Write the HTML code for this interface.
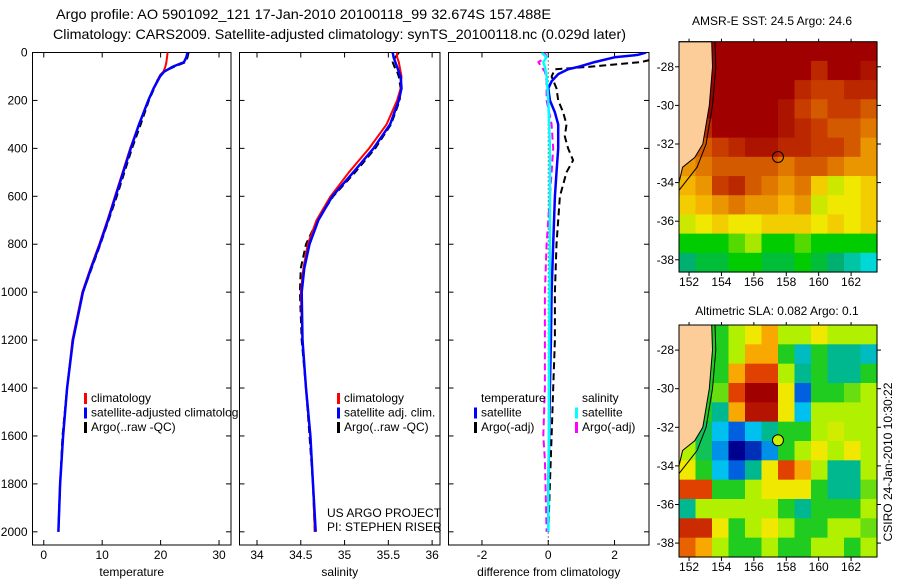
<!DOCTYPE html>
<html><head><meta charset="utf-8">
<style>
html,body{margin:0;padding:0;background:#fff;}
svg{display:block;font-family:"Liberation Sans",sans-serif;}
</style></head>
<body>
<svg id="fig" width="900" height="580" viewBox="0 0 900 580" xmlns="http://www.w3.org/2000/svg">
<rect width="900" height="580" fill="#fff"/>
<text x="56" y="19" font-size="14" textLength="495" lengthAdjust="spacingAndGlyphs">Argo profile: AO 5901092_121 17-Jan-2010 20100118_99 32.674S 157.488E</text>
<text x="53" y="39" font-size="14" textLength="573" lengthAdjust="spacingAndGlyphs">Climatology: CARS2009. Satellite-adjusted climatology: synTS_20100118.nc (0.029d later)</text>
<text x="772" y="25" font-size="12" text-anchor="middle">AMSR-E SST: 24.5 Argo: 24.6</text>
<text x="777" y="315" font-size="12" text-anchor="middle">Altimetric SLA: 0.082 Argo: 0.1</text>
<text transform="translate(892,462) rotate(-90)" font-size="12" text-anchor="middle">CSIRO 24-Jan-2010 10:30:22</text>
<text x="327" y="517" font-size="12">US ARGO PROJECT</text>
<text x="327" y="531" font-size="12">PI: STEPHEN RISER</text>
<g id="g"></g>
</svg>
<script>
// ---- profile data ----
const depths = [0,20,40,60,80,100,150,200,300,400,500,600,700,800,900,1000,1200,1400,1600,1800,2000];
const tempClim = [21.2,21.1,21.0,20.8,20.5,19.8,18.8,17.9,16.3,14.8,13.5,12.2,10.9,9.5,8.0,6.6,4.9,4.0,3.3,2.8,2.5];
const tempSat  = [24.6,24.4,24.0,22.0,20.6,19.9,18.8,17.9,16.3,14.9,13.6,12.3,11.0,9.6,8.1,6.7,5.0,4.0,3.3,2.8,2.5];
const tempArgo = [24.8,24.6,24.3,22.3,20.5,19.7,18.9,18.0,16.6,15.1,13.8,12.5,11.1,9.7,8.2,6.7,5.0,4.0,3.2,2.8,2.5];
const salClim = [35.6,35.6,35.62,35.63,35.64,35.65,35.64,35.6,35.48,35.28,35.05,34.84,34.68,34.58,34.53,34.5,34.52,34.56,34.61,34.64,34.66];
const salSat  = [35.55,35.56,35.58,35.6,35.62,35.64,35.65,35.62,35.52,35.33,35.1,34.86,34.7,34.6,34.54,34.51,34.52,34.56,34.61,34.64,34.67];
const salArgo = [35.62,35.58,35.55,35.57,35.6,35.62,35.64,35.63,35.53,35.35,35.12,34.87,34.69,34.56,34.5,34.49,34.51,34.56,34.6,34.64,34.66];
const dTSatDepth = [0,10,20,40,60,70,90,120,150,200,250,300,400,500,600,800,1000,1200,1400,1600,1800,2000];
const dTSat      = [2.95,2.7,2.0,1.4,0.9,0.6,0.3,0.1,0.0,0.05,0.2,0.3,0.3,0.25,0.2,0.15,0.1,0.08,0.05,0.03,0.0,0.0];
const dTArgoDepth = [0,30,40,50,60,70,100,150,200,250,300,350,400,450,500,550,600,700,800,1000,1200,1400,1600,1800,2000];
const dTArgo      = [3.3,3.1,2.8,2.0,1.2,0.2,0.1,0.25,0.3,0.45,0.55,0.5,0.6,0.75,0.55,0.45,0.35,0.3,0.25,0.2,0.2,0.15,0.1,0.05,0.0];
const dSSatDepth = [0,20,40,60,100,200,400,600,800,1000,1200,1400,1600,1800,2000];
const dSSat      = [-0.2,-0.05,-0.15,-0.1,-0.05,0.0,0.05,0.05,0.05,0.04,0.03,0.02,0.02,0.0,0.0];
const dSArgoDepth = [0,20,40,60,80,120,200,300,400,500,600,800,1000,1200,1400,1600,1700,2000];
const dSArgo      = [-0.1,-0.05,-0.3,-0.2,-0.1,-0.05,-0.05,0.1,0.15,0.1,0.05,-0.05,-0.1,-0.1,-0.1,-0.15,-0.1,-0.05];
const depthTicks = [0,200,400,600,800,1000,1200,1400,1600,1800,2000];
const tempTicks = [0,10,20,30];
const salTicks = [34,34.5,35,35.5,36];
const diffTicks = [-2,0,2];
// ---- map data (rows lat -27.2 .. -38.2, cols lon 151.9 .. 162.9) ----
const sstGrid = [
[10,10,10,10,10,10,10,10,10,10,10,10],
[10,10,10,10,10,10,10,10,9,10,10,9.5],
[10,10,10,10,10,10,10,9,8.5,8.5,9,9],
[10,10,10,10,10,10,9.5,8.5,8,8.5,8.5,8],
[9,9,10,10,10,10,9.5,9,8.5,8,8,7.5],
[8,8,8.5,9,9.5,9.5,9,9,8.5,8.5,8,7],
[7,7.5,8,8,8,8,7.5,8,8,7.5,7,7],
[6.5,7,8.5,9,8,7.5,7,7.5,6,5,5.5,6],
[6,6.5,7,7.5,7,7,6.5,7,5,5.5,5.5,6],
[5,5.5,6,5.5,5.5,6,6,6,5.5,6,5.5,6],
[3.5,3.5,3.5,4,4.5,3.5,3.5,4,3.5,3.5,3.5,3.5],
[2.5,3,3,3.5,3.5,3,3,3.5,3,2.5,2,1.5]];
const slaGrid = [
[4,4,4,5,6,7,5,5,6,5,5,5],
[4,4,4,5,7,7,4,2.5,4,3,3,2.5],
[4,4,4,7,8.5,8.5,5,3,4,3,3,4],
[4,4,4.5,8.5,10,10,6,1,4,4,4.5,5],
[4,4,3,7,9.5,9.5,6,2,5,5,5,5],
[4,3.5,2,1,2,3,4,4,5,5.5,5,5],
[5,3.5,1.5,0,0.5,1.5,4,5,6,5,6,5],
[6,4,2,1,3,6,8.5,7,5,3,3,5],
[8.5,8.5,4,4,5,6,6,6,4,3,3,4.5],
[3,5,5,5,5,5,4,3,4,4,4,5],
[9,9,6,4,5,6,5,4,4,5,5,4.5],
[8,7,5,4,4,5,4,4,5,5,4,5]];
const lonTicks = [152,154,156,158,160,162];
const latTicks = [-28,-30,-32,-34,-36,-38];
const argoLon = 157.488, argoLat = -32.674;

const NS="http://www.w3.org/2000/svg";
const G=document.getElementById('g');
function mk(tag,attrs,parent){const e=document.createElementNS(NS,tag);for(const k in attrs)e.setAttribute(k,attrs[k]);(parent||G).appendChild(e);return e;}
function txt(x,y,s,size,anchor,parent){const t=mk('text',{x:x,y:y,'font-size':size,'text-anchor':anchor||'start'},parent);t.textContent=s;return t;}

const yTop=52.5, yBot=545, dMax=2055;
const yD=d=>yTop+d/dMax*(yBot-yTop);

function panel(name,x0,x1,xmin,xmax,xticks,xlabel,showY){
  const sx=v=>x0+(v-xmin)/(xmax-xmin)*(x1-x0);
  const g=mk('g',{});
  
  
  const clipId=name+'-clip';
  const cp=mk('clipPath',{id:clipId},g);mk('rect',{x:x0,y:yTop,width:x1-x0,height:yBot-yTop},cp);
  const box=mk('rect',{x:x0,y:yTop,width:x1-x0,height:yBot-yTop,fill:'none',stroke:'#000','stroke-width':1},g);
  
  
  depthTicks.forEach(d=>{const y=yD(d);
    mk('line',{x1:x0,x2:x0+5,y1:y,y2:y,stroke:'#000'},g);
    mk('line',{x1:x1,x2:x1-5,y1:y,y2:y,stroke:'#000'},g);
    if(showY){const t=txt(x0-5,y+4,String(d),12,'end',g);
      
      }
  });
  xticks.forEach(v=>{const x=sx(v);
    mk('line',{x1:x,x2:x,y1:yBot,y2:yBot-5,stroke:'#000'},g);
    mk('line',{x1:x,x2:x,y1:yTop,y2:yTop+5,stroke:'#000'},g);
    const t=txt(x,559,String(v),12,'middle',g);
    
    
  });
  const xl=txt((x0+x1)/2,576,xlabel,12,'middle',g);
  
  
  const inner=mk('g',{'clip-path':'url(#'+clipId+')'},g);
  return {sx,inner,g};
}
function line(p,vals,ds,color,w,dash,nm){
  const pts=vals.map((v,i)=>p.sx(v).toFixed(1)+','+yD(ds[i]).toFixed(1)).join(' ');
  const a={points:pts,fill:'none',stroke:color,'stroke-width':w,'stroke-linejoin':'round'};
  if(dash)a['stroke-dasharray']=dash;
  const l=mk('polyline',a,p.inner);
  
  
}
function legend(p,x,y,items,parent){
  items.forEach((it,i)=>{const yy=y+i*14.5;
    if(it.c){mk('rect',{x:x-7,y:yy-9,width:3,height:11,fill:it.c},parent||p.g);}
    const t=txt(x,yy,it.t,12,'start',parent||p.g);
    
    
  });
}

const p1=panel('temperature-panel',32.5,231,-1.93,32.05,tempTicks,'temperature',true);
line(p1,tempArgo,depths,'#000',2,'7,4','temp-argo-line');
line(p1,tempClim,depths,'#f00',2,null,'temp-clim-line');
line(p1,tempSat,depths,'#00f',2.5,null,'temp-sat-line');
const lg1=mk('g',{'clip-path':'url(#leg1clip)'});
const c1=mk('clipPath',{id:'leg1clip'});mk('rect',{x:0,y:380,width:238,height:60},c1);
legend(p1,91,402,[{t:'climatology',c:'#f00'},{t:'satellite-adjusted climatology',c:'#00f'},{t:'Argo(..raw -QC)',c:'#000'}],lg1);

const p2=panel('salinity-panel',239.5,440,33.8,36.09,salTicks,'salinity',false);
line(p2,salArgo,depths,'#000',2,'7,4','sal-argo-line');
line(p2,salClim,depths,'#f00',2,null,'sal-clim-line');
line(p2,salSat,depths,'#00f',2.5,null,'sal-sat-line');
legend(p2,344,402,[{t:'climatology',c:'#f00'},{t:'satellite adj. clim.',c:'#00f'},{t:'Argo(..raw -QC)',c:'#000'}]);

const p3=panel('difference-panel',448.5,649,-3.01,3.04,diffTicks,'difference from climatology',false);
mk('line',{x1:p3.sx(0),x2:p3.sx(0),y1:yTop,y2:yBot,stroke:'#000','stroke-dasharray':'1,3'},p3.inner);
line(p3,dTArgo,dTArgoDepth,'#000',2,'7,4','dtemp-argo-line');
line(p3,dSArgo,dSArgoDepth,'#f0f',2,'7,4','dsal-argo-line');
line(p3,dTSat,dTSatDepth,'#00f',2.5,null,'dtemp-sat-line');
line(p3,dSSat,dSSatDepth,'#0ff',2.5,null,'dsal-sat-line');
legend(p3,481,402,[{t:'temperature'},{t:'satellite',c:'#00f'},{t:'Argo(-adj)',c:'#000'}]);
legend(p3,582,402,[{t:'salinity'},{t:'satellite',c:'#0ff'},{t:'Argo(-adj)',c:'#f0f'}]);

function lerpC(a,b,t){const pa=[1,3,5].map(i=>parseInt(a.substr(i,2),16)),pb=[1,3,5].map(i=>parseInt(b.substr(i,2),16));
  return 'rgb('+pa.map((v,i)=>Math.round(v+(pb[i]-v)*t)).join(',')+')';}
function cmap(stops,v){for(let i=0;i<stops.length-1;i++){const[a,ca]=stops[i],[b,cb]=stops[i+1];
  if(v<=b)return lerpC(ca,cb,Math.max(0,(v-a)/(b-a)));}return stops[stops.length-1][1];}
const sstStops=[[1.5,'#00d8d8'],[2.5,'#00b070'],[3.5,'#00cc00'],[4.5,'#a8e800'],[5.5,'#f0e800'],[6.5,'#f4b400'],[7.5,'#e07800'],[8.5,'#c83c00'],[10,'#a00000']];
const slaStops=[[0,'#000090'],[1,'#0060e0'],[2,'#00c0f0'],[3,'#00b890'],[4,'#20cc20'],[5,'#b0f000'],[6,'#f0e800'],[7,'#f8a800'],[8.5,'#e04000'],[10,'#a00000']];
function map(name,top,bottom,grid,stops,circleFill){
  const x0=679,x1=877;
  const lonL=151.38,lonR=163.6,latT=-26.7,latB=-26.7-(bottom-top)/19.3;
  const px=lo=>x0+(lo-lonL)/(lonR-lonL)*(x1-x0);
  const py=la=>top+(latT-la)/(latT-latB)*(bottom-top);
  const g=mk('g',{});
  
  
  const cw=(x1-x0)/grid[0].length, ch=(bottom-top)/grid.length;
  grid.forEach((row,r)=>row.forEach((v,c)=>{
    const cell=mk('rect',{x:(x0+c*cw).toFixed(2),y:(top+r*ch).toFixed(2),width:(cw+0.6).toFixed(2),height:(ch+0.6).toFixed(2),fill:cmap(stops,v)},g);
    
    
  }));
  const coast=[[151.38,-26.7],[153.4,-26.7],[153.45,-28],[153.25,-30],[152.85,-32],[152.35,-32.7],[151.6,-33.2],[151.38,-34.0]];
  const land=mk('polygon',{points:coast.map(p=>px(p[0]).toFixed(1)+','+py(p[1]).toFixed(1)).join(' '),fill:'#fccc99',stroke:'#000','stroke-width':1},g);
  
  
  const shelf=[[153.6,-26.7],[153.65,-28],[153.45,-30],[153.05,-32],[152.5,-33.2],[151.38,-34.4]];
  mk('polyline',{points:shelf.map(p=>px(p[0]).toFixed(1)+','+py(p[1]).toFixed(1)).join(' '),fill:'none',stroke:'#000','stroke-width':1},g);
  const circ=mk('circle',{cx:px(argoLon),cy:py(argoLat),r:5.5,fill:circleFill,stroke:'#000','stroke-width':1},g);
  
  
  mk('rect',{x:x0,y:top,width:x1-x0,height:bottom-top,fill:'none',stroke:'#000'},g);
  latTicks.forEach(la=>{const y=py(la);
    mk('line',{x1:x0,x2:x0-4,y1:y,y2:y,stroke:'#000'},g);
    mk('line',{x1:x1,x2:x1+4,y1:y,y2:y,stroke:'#000'},g);
    const t=txt(x0-5,y+4,String(la),12,'end',g);
    
    });
  lonTicks.forEach(lo=>{const x=px(lo);
    mk('line',{x1:x,x2:x,y1:bottom,y2:bottom+4,stroke:'#000'},g);
    mk('line',{x1:x,x2:x,y1:top,y2:top-3,stroke:'#000'},g);
    const t=txt(x,bottom+14,String(lo),12,'middle',g);
    
    });
}
map('sst-map',41.7,272,sstGrid,sstStops,'none');
map('sla-map',325,557,slaGrid,slaStops,'#c8f000');
</script>
</body></html>
